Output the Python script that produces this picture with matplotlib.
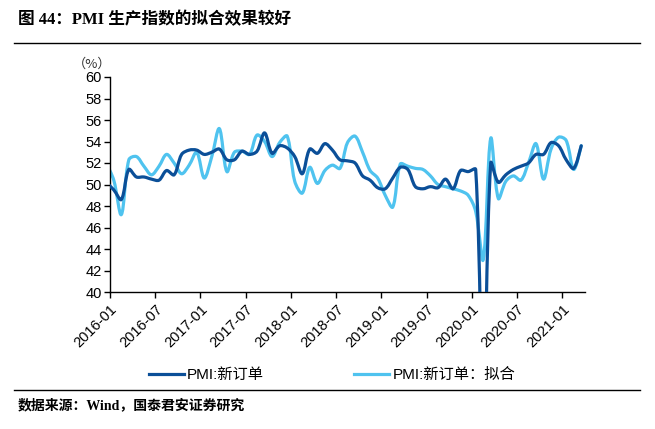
import numpy as np
import pandas as pd
import matplotlib
matplotlib.use("Agg")
import matplotlib.pyplot as plt
from matplotlib.lines import Line2D
from matplotlib.path import Path
from matplotlib.patches import PathPatch

# ---- data ----
months = [p.strftime("%Y-%m") for p in pd.period_range("2015-12", "2021-03", freq="M")]

pmi_new_orders = [50.2,
    49.5, 48.6, 51.4, 50.7, 50.7, 50.5, 50.4, 51.3, 50.9, 52.8, 53.2, 53.2,
    52.8, 53.0, 53.3, 52.3, 52.3, 53.1, 52.8, 53.1, 54.8, 52.9, 53.6, 53.4,
    52.6, 51.0, 53.3, 52.9, 53.8, 53.2, 52.3, 52.2, 52.0, 50.8, 50.4, 49.7,
    49.6, 50.6, 51.6, 51.4, 49.8, 49.6, 49.8, 49.7, 50.5, 49.6, 51.3, 51.2,
    51.4, 29.3, 52.0, 50.2, 50.9, 51.4, 51.7, 52.0, 52.8, 52.8, 53.9, 53.6,
    52.3, 51.5, 53.6]

pmi_fit = [52.0,
    50.4, 47.2, 52.3, 52.6, 51.7, 50.9, 51.7, 52.8, 52.0, 51.0, 51.8, 53.0,
    50.6, 52.6, 55.2, 51.2, 53.0, 53.1, 52.8, 54.6, 54.0, 52.6, 53.9, 54.5,
    50.3, 49.2, 51.6, 50.1, 51.3, 51.8, 51.5, 53.9, 54.5, 53.0, 51.3, 50.6,
    49.0, 47.9, 51.9, 51.7, 51.5, 51.4, 50.8, 50.0, 49.8, 49.6, 49.4, 49.0,
    47.5, 43.0, 54.3, 48.7, 50.3, 50.8, 50.4, 52.0, 53.8, 50.5, 53.3, 54.4,
    54.1, 51.4, 53.6]

tick_labels = ["2016-01", "2016-07", "2017-01", "2017-07", "2018-01", "2018-07",
               "2019-01", "2019-07", "2020-01", "2020-07", "2021-01"]
y_ticks = [40, 42, 44, 46, 48, 50, 52, 54, 56, 58, 60]

series_names = ["PMI:新订单", "PMI:新订单：拟合"]
colors = ["#0b4f98", "#4fc3ef"]


def smooth_path(xs, ys, sx, sy):
    """Smoothed line through every data point, tangents scaled by chord length
    measured in screen space (Excel-like smoothing)."""
    xs = np.asarray(xs, float)
    ys = np.asarray(ys, float)
    n = len(xs)

    def dist(i, j):
        return np.hypot((xs[j] - xs[i]) * sx, (ys[j] - ys[i]) * sy)

    verts = [(xs[0], ys[0])]
    codes = [Path.MOVETO]
    for i in range(n - 1):
        i0 = max(i - 1, 0)
        i3 = min(i + 2, n - 1)
        d01, d12, d23 = dist(i0, i), dist(i, i + 1), dist(i + 1, i3)
        f1 = d12 / (d01 + d12) if d01 > 0 else 0.5
        f2 = d12 / (d12 + d23) if d23 > 0 else 0.5
        c1 = (xs[i] + (xs[i + 1] - xs[i0]) * f1 / 3,
              ys[i] + (ys[i + 1] - ys[i0]) * f1 / 3)
        c2 = (xs[i + 1] - (xs[i3] - xs[i]) * f2 / 3,
              ys[i + 1] - (ys[i3] - ys[i]) * f2 / 3)
        verts += [c1, c2, (xs[i + 1], ys[i + 1])]
        codes += [Path.CURVE4] * 3
    return Path(verts, codes)


# ---- figure ----
plt.rcParams["font.family"] = ["Liberation Sans", "Noto Sans CJK SC", "DejaVu Sans"]
fig = plt.figure(figsize=(6.55, 4.29), dpi=100)

ax_w, ax_h = 475, 215
ax = fig.add_axes([110/655, 1-292/429, ax_w/655, ax_h/429])

# x positions: category centres, Jan 2016 = 0
x = np.arange(len(months)) - 1
xlim = (-0.5, 62.5)
ylim = (40, 60)
sx = ax_w / (xlim[1] - xlim[0])
sy = ax_h / (ylim[1] - ylim[0])

for vals, col, z in [(pmi_fit, colors[1], 2), (pmi_new_orders, colors[0], 3)]:
    ax.add_patch(PathPatch(smooth_path(x, vals, sx, sy), fill=False, edgecolor=col,
                           lw=2.3, joinstyle="round", capstyle="round", zorder=z))

ax.set_xlim(*xlim)
ax.set_ylim(*ylim)
ax.set_yticks(y_ticks)
ax.set_yticklabels([str(v) for v in y_ticks], fontsize=10.5)

tick_pos = [months.index(t) - 1 - 0.5 for t in tick_labels]
ax.set_xticks(tick_pos)
ax.set_xticklabels(tick_labels, rotation=45, ha="right", va="top",
                   rotation_mode="anchor", fontsize=10.5)

for s in ["top", "right"]:
    ax.spines[s].set_visible(False)
for s in ["left", "bottom"]:
    ax.spines[s].set_linewidth(1.0)
    ax.spines[s].set_color("black")
ax.tick_params(axis="both", direction="out", length=4, width=1, color="black",
               labelcolor="black")
ax.tick_params(axis="y", pad=2)
ax.tick_params(axis="x", pad=3)

fig.text(92/655, 1-64/429, "（%）", fontsize=9.5, ha="center", va="center",
         family=["Noto Sans CJK SC", "DejaVu Sans"], color="#333333")

# title and source
fig.text(18/655, 1-20/429, "图 44：PMI 生产指数的拟合效果较好", fontsize=12,
         fontweight="bold", ha="left", va="center",
         family=["Liberation Serif", "Noto Sans CJK SC", "DejaVu Sans"])
fig.add_artist(Line2D([14/655, 640/655], [1-42.5/429, 1-42.5/429],
                      color="black", lw=1.0, transform=fig.transFigure))
fig.add_artist(Line2D([14/655, 640/655], [1-390/429, 1-390/429],
                      color="black", lw=1.0, transform=fig.transFigure))
fig.text(18/655, 1-405/429, "数据来源：Wind，国泰君安证券研究", fontsize=10,
         fontweight="bold", ha="left", va="center",
         family=["Liberation Serif", "Noto Sans CJK SC", "DejaVu Sans"])

# legend
handles = [Line2D([], [], color=colors[0], lw=2.3),
           Line2D([], [], color=colors[1], lw=2.3)]
fig.legend(handles, series_names, loc="center", bbox_to_anchor=(332/655, 1-375/429),
           ncol=2, frameon=False, fontsize=11, handlelength=2.3,
           handletextpad=0.2, columnspacing=5.9)

fig.savefig("out.png", dpi=100)
